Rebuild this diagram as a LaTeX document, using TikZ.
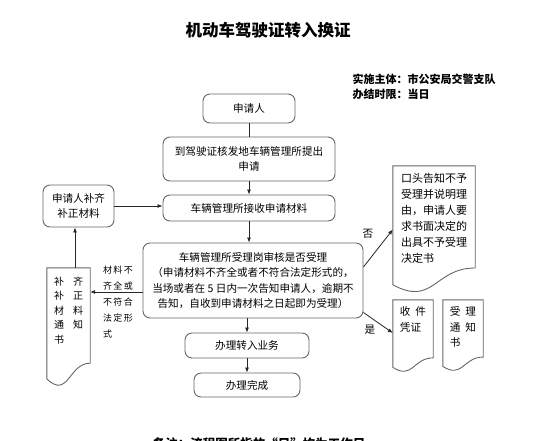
\documentclass[tikz,border=0pt]{standalone}
\usepackage{fontspec}
\setmainfont{Noto Sans CJK SC}
\usetikzlibrary{arrows.meta, positioning, calc}

\begin{document}
\begin{tikzpicture}[x=1pt, y=-1pt, font=\fontsize{10.6}{15.5}\selectfont,
  s/.style={draw=black!60, line width=0.9pt, rounded corners=7pt, fill=white, align=center, inner sep=0pt},
  docbox/.style={inner sep=0pt},
  doctxt/.style={inner sep=0pt, align=left, anchor=north},
  docline/.style={draw=black!60, line width=0.9pt},
  a/.style={-{Latex[length=5pt, width=4pt]}, line width=0.8pt, draw=black!85},
  ln/.style={line width=0.8pt, draw=black!85},
  lb/.style={inner sep=1pt}]
  \useasboundingbox (0,0) rectangle (554,440);
  % ---- heading
  \node[font=\fontsize{16.5}{20}\selectfont\bfseries] (title) at (268,30) {机动车驾驶证转入换证};
  \node[font=\fontsize{11}{15}\selectfont\bfseries, anchor=west] (who)  at (349,79) {实施主体：市公安局交警支队};
  \node[font=\fontsize{11}{15}\selectfont\bfseries, anchor=west] (when) at (349,94) {办结时限：当日};
  % ---- main column
  \node[s, minimum width=92,  minimum height=29] (apply)    at (249,108.5) {申请人};
  \node[s, minimum width=172, minimum height=44] (submit)   at (249,159)   {到驾驶证核发地车辆管理所提出\\申请};
  \node[s, minimum width=172, minimum height=26] (receive)  at (249,208)   {车辆管理所接收申请材料};
  \node[s, minimum width=220, minimum height=75] (review)   at (253,280.5) {车辆管理所受理岗审核是否受理\\（申请材料不齐全或者不符合法定形式的，\\当场或者在 5 日内一次告知申请人，逾期不\\告知，自收到申请材料之日起即为受理）};
  \node[s, minimum width=124, minimum height=25] (transfer) at (247,345.5) {办理转入业务};
  \node[s, minimum width=106, minimum height=24] (done)     at (247,385)   {办理完成};
  % ---- left branch: materials incomplete
  \node[s, minimum width=71, minimum height=42] (supply) at (78.5,206) {申请人补齐\\补正材料};
  \node[docbox, minimum width=43, minimum height=118.5] (bzdoc) at (68.5,327.25) {};
  \node[doctxt, font=\fontsize{10}{14.5}\selectfont] (bzdoc-t) at ([yshift=-9pt]bzdoc.north)
    {补\hspace{9pt}齐\\补\hspace{9pt}正\\材\hspace{9pt}料\\通\hspace{9pt}知\\书};
  \node[lb, align=left, font=\fontsize{9}{16}\selectfont] (lack) at (118,302)
    {材\kern1.5pt 料\kern1.5pt 不\\齐\kern1.5pt 全\kern1.5pt 或\\不\kern1.5pt 符\kern1.5pt 合\\法\kern1.5pt 定\kern1.5pt 形\\式};
  % ---- right branch: the three documents
  \node[docbox, minimum width=82, minimum height=127] (koutou)   at (434,229.5) {};
  \node[docbox, minimum width=40, minimum height=72]  (shoujian) at (413,336)   {};
  \node[docbox, minimum width=40, minimum height=71]  (tongzhi)  at (463,335.5) {};
  \node[doctxt, font=\fontsize{11}{16}\selectfont] (koutou-t) at ([yshift=-7pt]koutou.north)
    {口头告知不予\\受理并说明理\\由，申请人要\\求书面决定的\\出具不予受理\\决定书};
  \node[doctxt] (shoujian-t) at ([yshift=-7pt]shoujian.north) {收\hspace{5pt}件\\凭证};
  \node[doctxt] (tongzhi-t)  at ([yshift=-7pt]tongzhi.north)  {受\hspace{5pt}理\\通\hspace{5pt}知\\书};
  \node[lb] (no)  at (368,234) {否};
  \node[lb] (yes) at (370,330) {是};
  % document outlines with the wavy foot
  \foreach \dn in {bzdoc, koutou, shoujian, tongzhi}
    \draw[docline] (\dn.north west) -- (\dn.north east)
      -- ($(\dn.north east)!0.802!(\dn.south east)$)
      .. controls ($(\dn.north)!0.802!(\dn.south)$) and ($(\dn.north)!1.107!(\dn.south)$)
      .. ($(\dn.north west)!0.934!(\dn.south west)$) -- cycle;
  % ---- connectors
  \draw[ln] (apply) -- (submit);
  \draw[a] (submit) -- (receive);
  \draw[a] (receive) -- (receive |- review.north);
  \draw[a] (transfer |- review.south) -- (transfer);
  \draw[a] (transfer) -- (done);
  \draw[a] (supply.east) -- (supply.east -| receive.west);
  \draw[a] ([yshift=-11.5pt]review.west) -- ([yshift=-11.5pt]review.west -| bzdoc.east);
  \draw[a] ([xshift=6.5pt]bzdoc.north) -- ([xshift=6.5pt]bzdoc.north |- supply.south);
  \draw[a] ([yshift=13.5pt]review.east) -- (koutou.west);
  \draw[a] ([yshift=-32pt]review.east) -- ([yshift=3pt]shoujian.west);
  % ---- foot note, cut by the page edge
  \node[font=\fontsize{12.5}{15}\selectfont\bfseries] (note) at (259,444) {备注：流程图所指的“日”均为工作日};
\end{tikzpicture}
\end{document}
